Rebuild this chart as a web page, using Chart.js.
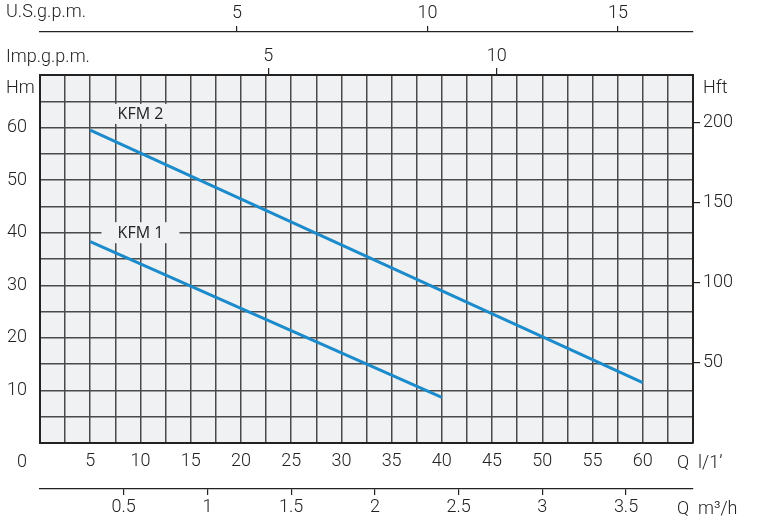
<!DOCTYPE html>
<html>
<head>
<meta charset="utf-8">
<title>KFM pump curves</title>
<script src="https://cdn.jsdelivr.net/npm/chart.js@4.4.1/dist/chart.umd.min.js"></script>
<style>
  html, body { margin: 0; padding: 0; background: #fff; }
  #wrap { width: 760px; height: 526px; }
</style>
</head>
<body>
<div id="wrap"><canvas id="pumpChart" width="760" height="526"></canvas></div>
<script>
// flow in l/min, head in metres
var kfm2Flow = [5, 30, 60];
var kfm2Head = [59.5, 37.7, 11.5];
var kfm1Flow = [5, 20, 40];
var kfm1Head = [38.3, 25.6, 8.7];

// tick labels
var flowLabels = [5, 10, 15, 20, 25, 30, 35, 40, 45, 50, 55, 60];
var headLabels = [10, 20, 30, 40, 50, 60];
var feetTicks = [50, 100, 150, 200];
var m3hTicks = [0.5, 1, 1.5, 2, 2.5, 3, 3.5];
var impTicks = [5, 10];
var usTicks = [5, 10, 15];

var curveNames = ["KFM 2", "KFM 1"];

var INK = "#222";
var GRID = "#4a4a4a";
var BG = "#f0f1f3";
var BLUE = "#1b8bcb";
var tickFont = { family: "Roboto", weight: 300, size: 18 };

function toPts(xs, ys) {
  return xs.map(function (x, i) { return { x: x, y: ys[i] }; });
}

function fixedTicks(list) {
  return function (scale) {
    scale.ticks = list.map(function (v) { return { value: v }; });
  };
}

function plain(v) { return String(v); }

var extras = {
  id: "extras",
  beforeDraw: function (chart) {
    var a = chart.chartArea, ctx = chart.ctx;
    ctx.save();
    ctx.fillStyle = BG;
    ctx.fillRect(a.left, a.top, a.right - a.left, a.bottom - a.top);
    ctx.restore();
  },
  beforeDatasetsDraw: function (chart) {
    var ctx = chart.ctx, xs = chart.scales.x, ys = chart.scales.y;
    // curve name tags, with a box that hides the grid behind them
    var tags = [
      { text: curveNames[0], x: 10, y: 62.6, w: 62, h: 20 },
      { text: curveNames[1], x: 10, y: 40, w: 78, h: 21 }
    ];
    ctx.save();
    ctx.font = "16px 'Open Sans'";
    ctx.textAlign = "center";
    ctx.textBaseline = "middle";
    tags.forEach(function (t) {
      var px = xs.getPixelForValue(t.x), py = ys.getPixelForValue(t.y);
      ctx.fillStyle = BG;
      ctx.fillRect(px - t.w / 2, py - t.h / 2, t.w, t.h);
      ctx.fillStyle = INK;
      ctx.fillText(t.text, px, py + 1);
    });
    ctx.restore();
  },
  afterDraw: function (chart) {
    var ctx = chart.ctx, a = chart.chartArea;
    ctx.save();
    ctx.fillStyle = INK;
    ctx.font = "300 18px Roboto";
    ctx.textBaseline = "alphabetic";
    ctx.textAlign = "left";
    ctx.fillText("U.S.g.p.m.", 6, 17);
    ctx.fillText("Imp.g.p.m.", 6, 62);
    ctx.fillText("Hm", 6, 93);
    ctx.fillText("Hft", a.right + 10, 93);
    ctx.fillText("Q  l/1\u2019", a.right - 16, 468);
    ctx.fillText("Q  m\u00b3/h", a.right - 16, 514);
    ctx.textAlign = "center";
    ctx.textBaseline = "middle";
    ctx.fillText("0", chart.scales.x.getPixelForValue(0) - 18, a.bottom + 19);
    ctx.restore();
  }
};

var ctx = document.getElementById("pumpChart").getContext("2d");
var pumpChart = new Chart(ctx, {
  type: "scatter",
  data: {
    datasets: [
      {
        label: curveNames[0],
        data: toPts(kfm2Flow, kfm2Head),
        showLine: true,
        borderColor: BLUE,
        borderWidth: 3,
        pointRadius: 0,
        xAxisID: "x",
        yAxisID: "y"
      },
      {
        label: curveNames[1],
        data: toPts(kfm1Flow, kfm1Head),
        showLine: true,
        borderColor: BLUE,
        borderWidth: 3,
        pointRadius: 0,
        xAxisID: "x",
        yAxisID: "y"
      }
    ]
  },
  options: {
    responsive: false,
    animation: false,
    layout: { padding: 0 },
    plugins: {
      legend: { display: false },
      tooltip: { enabled: false }
    },
    scales: {
      x: {
        type: "linear",
        position: "bottom",
        weight: 1,
        min: 0,
        max: 65,
        grid: { color: GRID, lineWidth: 1.5, drawTicks: false },
        border: { color: INK, width: 2 },
        ticks: {
          stepSize: 2.5,
          autoSkip: false,
          maxRotation: 0,
          padding: 8,
          color: INK,
          font: tickFont,
          callback: function (v) { return flowLabels.indexOf(v) >= 0 ? String(v) : ""; }
        },
        afterFit: function (s) { s.height = 46; }
      },
      xm3: {
        type: "linear",
        position: "bottom",
        weight: 2,
        min: 0,
        max: 3.9,
        grid: { drawOnChartArea: false, drawTicks: true, tickLength: 6, color: INK, lineWidth: 1.2 },
        border: { color: INK, width: 1.2 },
        ticks: { padding: 2, maxRotation: 0, color: INK, font: tickFont, callback: plain },
        afterBuildTicks: fixedTicks(m3hTicks),
        afterFit: function (s) { s.height = 37; }
      },
      xImp: {
        type: "linear",
        position: "top",
        weight: 1,
        min: 0,
        max: 65 / 4.546,
        grid: { drawOnChartArea: false, drawTicks: true, tickLength: 7, color: INK, lineWidth: 1.2 },
        border: { color: INK, width: 2 },
        ticks: { padding: 1, maxRotation: 0, color: INK, font: tickFont, callback: plain },
        afterBuildTicks: fixedTicks(impTicks),
        afterFit: function (s) { s.height = 43; }
      },
      xUs: {
        type: "linear",
        position: "top",
        weight: 2,
        min: -0.17,
        max: 16.97,
        grid: { drawOnChartArea: false, drawTicks: true, tickLength: 6, color: INK, lineWidth: 1.2 },
        border: { color: INK, width: 1.2 },
        ticks: { padding: 2, maxRotation: 0, color: INK, font: tickFont, callback: plain },
        afterBuildTicks: fixedTicks(usTicks),
        afterFit: function (s) { s.height = 32; }
      },
      y: {
        type: "linear",
        position: "left",
        min: 0,
        max: 70,
        grid: { color: GRID, lineWidth: 1.5, drawTicks: false },
        border: { color: INK, width: 2 },
        ticks: {
          stepSize: 5,
          autoSkip: false,
          padding: 13,
          color: INK,
          font: tickFont,
          callback: function (v) { return headLabels.indexOf(v) >= 0 ? String(v) : ""; }
        },
        afterFit: function (s) { s.width = 40; }
      },
      yFt: {
        type: "linear",
        position: "right",
        min: 0,
        max: 70 * 3.28084,
        grid: { drawOnChartArea: false, drawTicks: true, tickLength: 7, color: INK, lineWidth: 1.2 },
        border: { color: INK, width: 2 },
        ticks: { padding: 3, color: INK, font: tickFont, callback: plain },
        afterBuildTicks: fixedTicks(feetTicks),
        afterFit: function (s) { s.width = 67; }
      }
    }
  },
  plugins: [extras]
});
</script>
</body>
</html>
